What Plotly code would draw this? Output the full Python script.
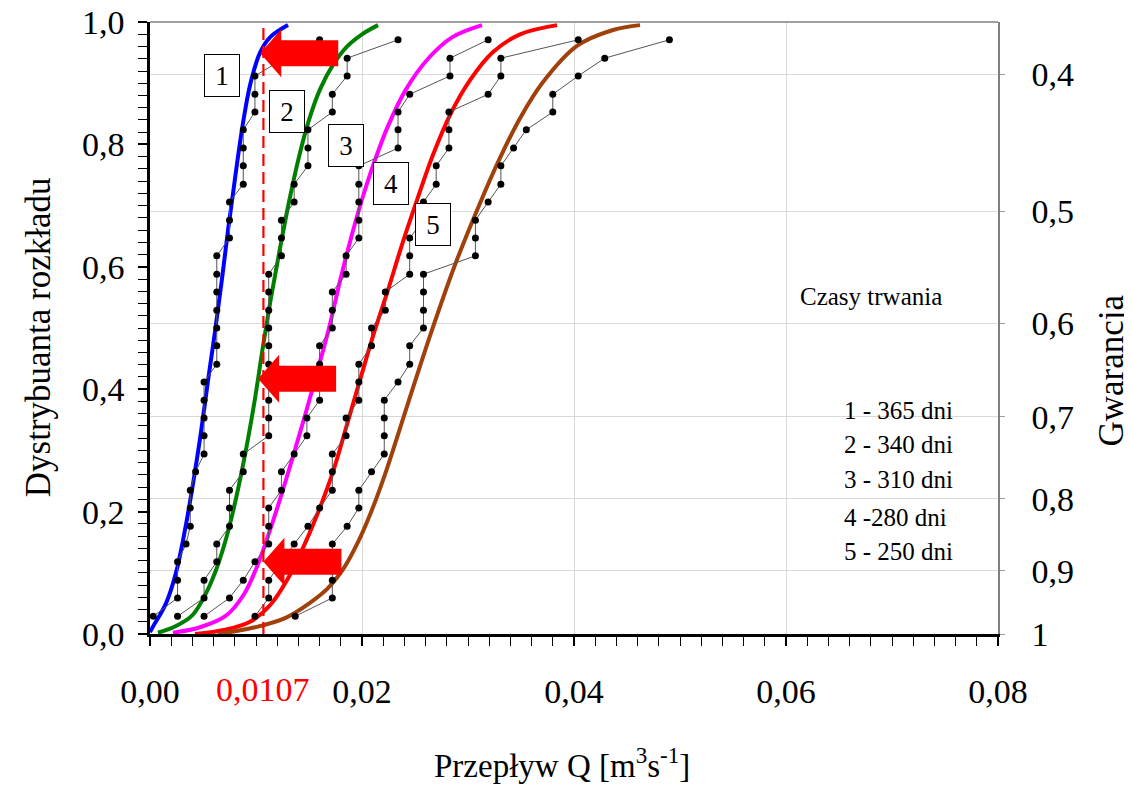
import plotly.graph_objects as go

# ---------------- data ----------------
# plotting positions of the empirical points (i/(n+1), n = 33)
p_levels = [0.029, 0.059, 0.088, 0.118, 0.147, 0.176, 0.206, 0.235, 0.265, 0.294,
            0.324, 0.353, 0.382, 0.412, 0.441, 0.471, 0.500, 0.529, 0.559, 0.588,
            0.618, 0.647, 0.676, 0.706, 0.735, 0.765, 0.794, 0.824, 0.853, 0.882,
            0.912, 0.941, 0.971]

# empirical flows [m3/s] for durations 365, 340, 310, 280, 250 days
q_emp_1 = [0.0003, 0.0026, 0.0026, 0.0026, 0.0034, 0.0038, 0.0038, 0.0038, 0.0043, 0.0051,
           0.0051, 0.0051, 0.0051, 0.0051, 0.0063, 0.0063, 0.0063, 0.0063, 0.0063, 0.0063,
           0.0063, 0.0075, 0.0075, 0.0075, 0.0088, 0.0088, 0.0088, 0.0088, 0.0099, 0.0099,
           0.0099, 0.0127, 0.0160]
q_emp_2 = [0.0026, 0.0051, 0.0051, 0.0063, 0.0063, 0.0075, 0.0075, 0.0075, 0.0088, 0.0088,
           0.0112, 0.0112, 0.0112, 0.0112, 0.0112, 0.0112, 0.0112, 0.0112, 0.0112, 0.0112,
           0.0124, 0.0124, 0.0124, 0.0136, 0.0136, 0.0149, 0.0149, 0.0149, 0.0172, 0.0172,
           0.0186, 0.0186, 0.0234]
q_emp_3 = [0.0051, 0.0075, 0.0088, 0.0099, 0.0112, 0.0112, 0.0112, 0.0124, 0.0124, 0.0136,
           0.0148, 0.0148, 0.0160, 0.0160, 0.0160, 0.0160, 0.0172, 0.0172, 0.0172, 0.0185,
           0.0185, 0.0197, 0.0197, 0.0197, 0.0197, 0.0197, 0.0234, 0.0234, 0.0234, 0.0245,
           0.0283, 0.0283, 0.0319]
q_emp_4 = [0.0099, 0.0112, 0.0112, 0.0124, 0.0136, 0.0149, 0.0160, 0.0172, 0.0172, 0.0172,
           0.0185, 0.0185, 0.0197, 0.0197, 0.0197, 0.0209, 0.0209, 0.0222, 0.0222, 0.0245,
           0.0245, 0.0245, 0.0258, 0.0258, 0.0270, 0.0270, 0.0282, 0.0282, 0.0282, 0.0319,
           0.0331, 0.0331, 0.0404]
q_emp_5 = [0.0137, 0.0172, 0.0172, 0.0172, 0.0172, 0.0186, 0.0197, 0.0197, 0.0209, 0.0221,
           0.0221, 0.0221, 0.0221, 0.0234, 0.0245, 0.0245, 0.0258, 0.0258, 0.0258, 0.0258,
           0.0307, 0.0307, 0.0307, 0.0319, 0.0331, 0.0331, 0.0343, 0.0355, 0.0380, 0.0380,
           0.0404, 0.0429, 0.0490]

# fitted distribution curves
fit_1_q = [0.00000, 0.00028, 0.00151, 0.00245, 0.00330, 0.00410, 0.00481, 0.00552, 0.00618,
           0.00679, 0.00736, 0.00783, 0.00830, 0.00882, 0.00948, 0.01038, 0.01132, 0.01302]
fit_1_p = [0.003, 0.012, 0.050, 0.100, 0.170, 0.250, 0.330, 0.420, 0.500,
           0.580, 0.660, 0.720, 0.780, 0.840, 0.900, 0.950, 0.975, 0.995]
fit_2_q = [0.00075, 0.00245, 0.00396, 0.00509, 0.00613, 0.00708, 0.00783, 0.00882, 0.00986,
           0.01066, 0.01142, 0.01226, 0.01316, 0.01406, 0.01500, 0.01604, 0.01726, 0.01858,
           0.02000, 0.02151]
fit_2_p = [0.002, 0.013, 0.030, 0.060, 0.100, 0.150, 0.200, 0.280, 0.380,
           0.470, 0.550, 0.630, 0.710, 0.780, 0.840, 0.890, 0.930, 0.960,
           0.980, 0.995]
fit_3_q = [0.00217, 0.00472, 0.00717, 0.00887, 0.01009, 0.01113, 0.01226, 0.01349, 0.01467,
           0.01580, 0.01689, 0.01797, 0.01901, 0.02000, 0.02113, 0.02245, 0.02415, 0.02623,
           0.02849, 0.03132]
fit_3_p = [0.002, 0.011, 0.030, 0.065, 0.110, 0.160, 0.220, 0.290, 0.360,
           0.430, 0.500, 0.580, 0.650, 0.710, 0.770, 0.830, 0.890, 0.940,
           0.975, 0.995]
fit_4_q = [0.00425, 0.00708, 0.00943, 0.01132, 0.01292, 0.01434, 0.01575, 0.01726, 0.01858,
           0.01981, 0.02113, 0.02245, 0.02377, 0.02519, 0.02670, 0.02830, 0.03019, 0.03236,
           0.03491, 0.03840]
fit_4_p = [0.000, 0.007, 0.020, 0.047, 0.088, 0.137, 0.194, 0.265, 0.342,
           0.415, 0.492, 0.562, 0.636, 0.709, 0.783, 0.848, 0.905, 0.951,
           0.980, 0.995]
fit_5_q = [0.00642, 0.00991, 0.01274, 0.01509, 0.01679, 0.01830, 0.01962, 0.02085, 0.02217,
           0.02434, 0.02651, 0.02877, 0.03113, 0.03302, 0.03491, 0.03708, 0.04028, 0.04368,
           0.04623]
fit_5_p = [0.000, 0.011, 0.026, 0.051, 0.075, 0.108, 0.150, 0.199, 0.261,
           0.377, 0.492, 0.603, 0.704, 0.778, 0.843, 0.902, 0.961, 0.987,
           0.995]

series_labels = ["1", "2", "3", "4", "5"]
legend_title = "Czasy trwania"
legend_entries = ["1 - 365 dni", "2 - 340 dni", "3 - 310 dni", "4 -280 dni", "5 - 250 dni"]

# threshold flow and the distribution values it cuts
q_threshold = 0.0107
arrow_q = [0.0104, 0.0102, 0.0107]
arrow_p = [0.949, 0.417, 0.118]

# secondary (guarantee) axis
guarantee_text = ["0,4", "0,5", "0,6", "0,7", "0,8", "0,9", "1"]
guarantee_pos = [0.915, 0.691, 0.508, 0.355, 0.221, 0.103, 0.0]

x_tick_vals = [0.0, 0.02, 0.04, 0.06, 0.08]

# ---------------- styling ----------------
FONT = "Liberation Serif"
curve_colors = ["#0000ff", "#008000", "#ff00ff", "#ff0000", "#a0400a"]
label_pos = [(0.0068, 0.912), (0.0129, 0.854), (0.0185, 0.798), (0.0227, 0.737), (0.0267, 0.670)]

fig = go.Figure()

fits = [(fit_1_q, fit_1_p), (fit_2_q, fit_2_p), (fit_3_q, fit_3_p),
        (fit_4_q, fit_4_p), (fit_5_q, fit_5_p)]
emps = [q_emp_1, q_emp_2, q_emp_3, q_emp_4, q_emp_5]

for (fq, fp), col in zip(fits, curve_colors):
    fig.add_trace(go.Scatter(x=fq, y=fp, mode="lines",
                             line=dict(color=col, width=4, shape="spline", smoothing=1.0),
                             showlegend=False, hoverinfo="skip"))

for eq in emps:
    fig.add_trace(go.Scatter(x=eq, y=p_levels, mode="lines+markers",
                             line=dict(color="#555555", width=1),
                             marker=dict(color="black", size=7),
                             showlegend=False, hoverinfo="skip"))

# trace that activates the secondary axis
fig.add_trace(go.Scatter(x=[0], y=[0], yaxis="y2", mode="markers",
                         marker=dict(opacity=0), showlegend=False, hoverinfo="skip"))

shapes = []
shapes.append(dict(type="line", xref="x", yref="y", x0=q_threshold, x1=q_threshold,
                   y0=0, y1=1, line=dict(color="#ff0000", width=2.2, dash="12px,6px"),
                   layer="above"))
shapes.append(dict(type="line", xref="paper", yref="paper", x0=0, x1=1, y0=1, y1=1,
                   line=dict(color="#808080", width=1.5)))
px_x = 0.08 / 848.0
px_y = 1.0 / 612.0
head_len = 21 * px_x
total_len = 78 * px_x
head_half = 24 * px_y
body_half = 13 * px_y
for aq, ap in zip(arrow_q, arrow_p):
    path = (f"M {aq},{ap} "
            f"L {aq + head_len},{ap + head_half} "
            f"L {aq + head_len},{ap + body_half} "
            f"L {aq + total_len},{ap + body_half} "
            f"L {aq + total_len},{ap - body_half} "
            f"L {aq + head_len},{ap - body_half} "
            f"L {aq + head_len},{ap - head_half} Z")
    shapes.append(dict(type="path", xref="x", yref="y", path=path,
                       fillcolor="#ff0000", line=dict(width=0), layer="above"))

annotations = []
for lab, (lx, ly) in zip(series_labels, label_pos):
    annotations.append(dict(x=lx, y=ly, xref="x", yref="y", text=lab, showarrow=False,
                            font=dict(family=FONT, size=27, color="black"),
                            bgcolor="white", bordercolor="black", borderwidth=1,
                            borderpad=2, width=30, height=37))

annotations.append(dict(x=0.764, y=0.551, xref="paper", yref="paper", text=legend_title,
                        showarrow=False, xanchor="left", yanchor="middle",
                        font=dict(family=FONT, size=25, color="black")))
leg_y = [0.366, 0.309, 0.252, 0.191, 0.134]
for txt, ly in zip(legend_entries, leg_y):
    annotations.append(dict(x=0.816, y=ly, xref="paper", yref="paper", text=txt,
                            showarrow=False, xanchor="left", yanchor="middle",
                            font=dict(family=FONT, size=25, color="black")))

annotations.append(dict(x=q_threshold, y=-0.0915, xref="x", yref="paper",
                        text="0,0107", showarrow=False, yanchor="middle",
                        font=dict(family=FONT, size=34, color="#ff0000")))
annotations.append(dict(x=0.486, y=-0.211, xref="paper", yref="paper",
                        text="Przepływ Q [m<sup>3</sup>s<sup>-1</sup>]", showarrow=False,
                        yanchor="middle", font=dict(family=FONT, size=33, color="black")))
annotations.append(dict(x=-0.132, y=0.485, xref="paper", yref="paper",
                        text="Dystrybuanta rozkładu", showarrow=False, textangle=-90,
                        xanchor="center", yanchor="middle",
                        font=dict(family=FONT, size=35, color="black")))
annotations.append(dict(x=1.134, y=0.43, xref="paper", yref="paper",
                        text="Gwarancja", showarrow=False, textangle=-90,
                        xanchor="center", yanchor="middle",
                        font=dict(family=FONT, size=35, color="black")))

TICKFONT = dict(family=FONT, size=34, color="black")

# the page body adds an 8px offset, so the figure is 8px smaller and margins shifted
fig.update_layout(
    width=1124, height=778,
    margin=dict(l=142, r=134, t=14, b=152, autoexpand=False),
    paper_bgcolor="white", plot_bgcolor="white",
    separators=", ",
    font=dict(family=FONT, size=32, color="black"),
    shapes=shapes, annotations=annotations,
    xaxis=dict(range=[0, 0.08], tickvals=x_tick_vals, tickformat=".2f", automargin=False,
               showgrid=True, gridcolor="#d9d9d9", gridwidth=1, zeroline=False,
               showline=True, linecolor="black", linewidth=2.5,
               ticks="outside", ticklen=9, tickwidth=1.5, tickcolor="black",
               ticklabelstandoff=16, ticklabeloverflow="allow",
               minor=dict(dtick=0.002, ticks="outside", ticklen=9, tickwidth=1,
                          tickcolor="black", showgrid=False),
               tickfont=TICKFONT),
    yaxis=dict(range=[0, 1.0001], dtick=0.2, tickformat=".1f", showgrid=False, zeroline=False,
               automargin=False, ticklabeloverflow="allow",
               showline=True, linecolor="black", linewidth=2.5,
               ticks="outside", ticklen=9, tickwidth=1.5, tickcolor="black",
               ticklabelstandoff=7,
               minor=dict(dtick=0.02, ticks="outside", ticklen=9, tickwidth=1,
                          tickcolor="black", showgrid=False),
               tickfont=TICKFONT),
    yaxis2=dict(range=[0, 1.0001], overlaying="y", side="right", anchor="x", automargin=False,
                tickvals=guarantee_pos, ticktext=guarantee_text, ticklabeloverflow="allow",
                showgrid=True, gridcolor="#d9d9d9", gridwidth=1, zeroline=False,
                showline=True, linecolor="#808080", linewidth=1.5,
                ticks="outside", ticklen=5, tickcolor="#a0a0a0",
                ticklabelstandoff=20,
                tickfont=TICKFONT),
)

fig.write_html("out.html")
